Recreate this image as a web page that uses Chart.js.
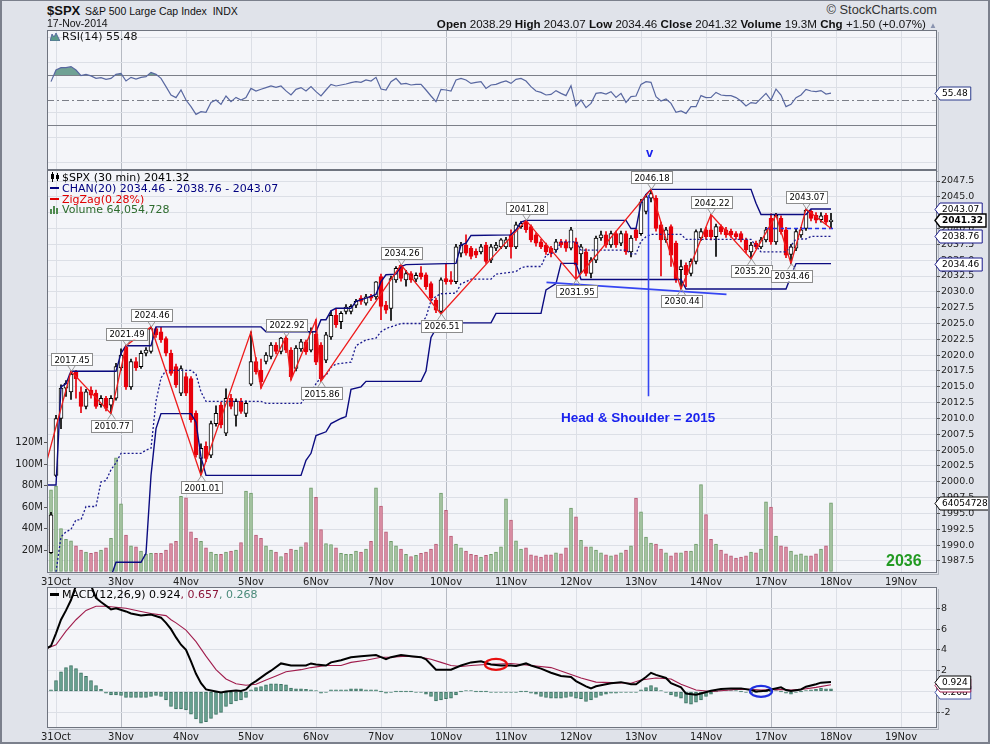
<!DOCTYPE html>
<html lang="en">
<head>
  <meta charset="UTF-8" />
  <title>$SPX S&amp;P 500 Large Cap Index - 30 min</title>
  <script src="https://cdn.jsdelivr.net/npm/chart.js"></script>
  <style>
    * { margin: 0; padding: 0; box-sizing: border-box; }
    body { background: #dfe2e9; width: 990px; height: 744px; overflow: hidden; }
    #wrap { position: relative; width: 990px; height: 744px; background: #e0e3ea; }
    #frame { position: absolute; left: 0; top: 0; width: 990px; height: 744px; border: 2px solid #7b808c; border-top-width: 1px; pointer-events: none; z-index: 5; }
    canvas { position: absolute; left: 0; }
    .t { position: absolute; white-space: nowrap; line-height: 1; font-family: 'Liberation Sans', sans-serif; color: #111; z-index: 3; }
    .lg { position: absolute; white-space: nowrap; line-height: 1; font-family: 'DejaVu Sans', sans-serif; font-size: 11px; z-index: 3; }
    .dash { display: inline-block; width: 9px; height: 2px; vertical-align: middle; margin-right: 3px; position: relative; top: -1px; }
    .ann { position: absolute; white-space: nowrap; line-height: 1; font-family: 'Liberation Sans', sans-serif; font-weight: bold; z-index: 3; }
  </style>
</head>
<body>
<div id="wrap">
  <canvas id="rsiChart" width="990" height="160" style="top:20px"></canvas>
  <canvas id="priceChart" width="990" height="428" style="top:160px"></canvas>
  <canvas id="macdChart" width="990" height="166" style="top:577px"></canvas>

  <!-- header -->
  <div class="t" style="left:47px;top:4px;font-size:13px;font-weight:bold">$SPX</div>
  <div class="t" style="left:85px;top:5.6px;font-size:10.5px">S&amp;P 500 Large Cap Index&nbsp; INDX</div>
  <div class="t" style="right:53px;top:3.7px;font-size:12.8px;color:#333">&copy; StockCharts.com</div>
  <div class="t" style="left:47px;top:18.4px;font-size:10.5px">17-Nov-2014</div>
  <div class="t" style="right:53px;top:17.5px;font-size:11.6px"><b>Open</b> 2038.29 <b>High</b> 2043.07 <b>Low</b> 2034.46 <b>Close</b> 2041.32 <b>Volume</b> 19.3M <b>Chg</b> +1.50 (+0.07%) <span style="color:#8a94b0;font-size:8px">&#9650;</span></div>

  <!-- RSI legend -->
  <div class="lg" style="left:50px;top:31px;color:#111">
    <svg width="10" height="9" style="vertical-align:-1px;margin-right:2px"><path d="M0 9 L2 2 L4 5 L6 1 L10 9 Z" fill="#5c9a8a" stroke="#4a5a9a" stroke-width="0.8"/></svg>RSI(14) 55.48
  </div>

  <!-- price legend -->
  <div class="lg" style="left:50px;top:172px;color:#000">
    <svg width="10" height="10" style="vertical-align:-1px;margin-right:2px"><path d="M2.5 0v10M7.5 1v8" stroke="#000"/><rect x="1" y="2" width="3" height="5" fill="#000"/><rect x="6" y="3" width="3" height="4" fill="#000"/></svg>$SPX (30 min) 2041.32
  </div>
  <div class="lg" style="left:50px;top:183px;color:#000080"><span class="dash" style="background:#000080"></span>CHAN(20) 2034.46 - 2038.76 - 2043.07</div>
  <div class="lg" style="left:50px;top:194px;color:#e00000"><span class="dash" style="background:#e00000"></span>ZigZag(0.28%)</div>
  <div class="lg" style="left:50px;top:204px;color:#2d6b2d">
    <svg width="10" height="9" style="vertical-align:-1px;margin-right:2px"><rect x="0" y="4" width="2" height="5" fill="#4f8a4f"/><rect x="3" y="1" width="2" height="8" fill="#4f8a4f"/><rect x="6" y="3" width="2" height="6" fill="#4f8a4f"/></svg>Volume 64,054,728
  </div>

  <!-- MACD legend -->
  <div class="lg" style="left:50px;top:589px;color:#000"><span class="dash" style="background:#000;height:3px"></span>MACD(12,26,9) 0.924<span style="color:#8a1538">, 0.657</span><span style="color:#4a8a7a">, 0.268</span></div>

  <!-- annotations -->
  <div class="ann" style="left:646px;top:146px;font-size:13px;color:#1a22ee">v</div>
  <div class="ann" style="left:561px;top:411px;font-size:13.5px;color:#1a22ee">Head &amp; Shoulder = 2015</div>
  <div class="ann" style="left:886px;top:553px;font-size:16px;color:#229a22">2036</div>

  <div id="frame"></div>
</div>

<script>
// ---- axis layout ----
const dayLabels   = ['31Oct','3Nov','4Nov','5Nov','6Nov','7Nov','10Nov','11Nov','12Nov','13Nov','14Nov','17Nov','18Nov','19Nov'];
const dayStartBar = [1, 14, 27, 40, 53, 66, 79, 92, 105, 118, 131, 144, 157, 170];
const weekStarts  = ['3Nov', '10Nov', '17Nov'];
const priceTicks  = [1987.5,1990,1992.5,1995,1997.5,2000,2002.5,2005,2007.5,2010,2012.5,2015,2017.5,2020,2022.5,2025,2027.5,2030,2032.5,2035,2037.5,2040,2042.5,2045,2047.5];
const volTicks    = [20, 40, 60, 80, 100, 120];
const rsiTicks    = [0, 10, 20, 30, 40, 50, 60, 70, 80, 90, 100];
const macdTicks   = [-2, 0, 2, 4, 6, 8];

// ---- 30 min bars (index 0 = last bar of 30 Oct) ----
const openP = [
  1988.8,2001.0,2010.0,2014.8,2014.2,2017.4,2014.2,2011.9,2014.5,2014.0,2012.2,2013.2,2012.1,2013.2,
  2018.0,2021.3,2015.0,2019.0,2018.2,2020.3,2020.6,2024.2,2023.7,2022.6,2020.3,2018.2,2014.0,
  2016.6,2016.3,2010.8,2003.7,2005.6,2004.2,2009.2,2012.1,2007.7,2013.2,2010.5,2012.7,2010.8,
  2015.4,2019.0,2017.6,2019.0,2019.8,2021.6,2020.6,2022.7,2020.8,2017.9,2021.0,2022.1,2020.8,
  2023.3,2021.6,2019.2,2022.9,2026.3,2025.3,2026.9,2026.9,2027.9,2029.0,2028.2,2029.3,2029.2,
  2032.4,2027.9,2027.4,2031.9,2034.2,2031.9,2032.9,2032.0,2033.0,2032.7,2031.3,2028.7,2026.9,
  2032.1,2031.9,2031.6,2036.1,2037.4,2036.9,2036.4,2036.3,2037.4,2035.0,2036.9,2037.1,2037.1,
  2039.0,2037.1,2040.3,2041.1,2040.3,2039.0,2037.9,2037.4,2036.9,2036.6,2037.9,2037.9,2036.9,
  2037.9,2036.0,2036.3,2032.9,2035.0,2038.5,2039.0,2037.4,2039.2,2037.7,2039.2,2036.3,2039.8,
  2039.2,2042.7,2044.8,2044.8,2040.6,2038.2,2040.3,2037.7,2033.5,2034.2,2032.9,2034.8,2038.5,
  2039.8,2039.8,2038.7,2040.3,2039.8,2039.6,2039.2,2039.2,2038.2,2036.3,2037.7,2037.1,2038.2,
  2041.6,2037.9,2041.6,2039.8,2035.9,2036.9,2039.0,2040.0,2042.7,2042.1,2041.4,2042.1,2041.1
];
const highP = [
  1995.2,2010.5,2015.3,2016.0,2017.45,2017.6,2015.0,2014.6,2015.0,2014.5,2013.6,2013.5,2013.6,2018.7,
  2021.0,2021.49,2019.4,2019.6,2020.7,2021.2,2024.46,2024.4,2024.4,2022.9,2020.8,2018.6,2018.3,
  2017.2,2016.6,2011.2,2006.0,2006.3,2009.6,2012.0,2012.6,2014.7,2013.8,2013.1,2013.2,2012.8,
  2023.7,2019.6,2019.4,2020.4,2022.0,2022.0,2022.8,2022.92,2021.2,2021.5,2022.5,2022.4,2024.3,
  2025.6,2022.0,2023.6,2027.0,2027.4,2026.9,2028.0,2028.0,2028.8,2029.4,2029.6,2029.6,2031.61,
  2032.8,2028.5,2032.5,2034.0,2034.26,2033.4,2033.2,2033.0,2034.0,2033.0,2031.6,2029.0,2032.2,
  2034.5,2033.2,2037.5,2037.8,2039.0,2037.2,2036.8,2037.5,2037.8,2037.5,2037.8,2038.4,2038.6,
  2039.8,2041.0,2041.1,2041.28,2040.6,2039.3,2038.3,2037.7,2037.2,2038.3,2038.3,2038.2,2040.2,
  2038.5,2037.5,2036.8,2035.4,2038.8,2039.6,2039.5,2039.6,2039.6,2039.6,2039.6,2038.9,2040.0,
  2044.6,2045.4,2046.18,2045.2,2041.0,2040.2,2040.6,2038.0,2035.0,2034.6,2035.2,2039.8,2040.0,
  2040.2,2042.22,2040.7,2040.6,2040.2,2039.9,2039.5,2039.5,2038.5,2037.8,2038.0,2038.6,2040.2,
  2042.3,2042.4,2042.0,2040.2,2037.5,2039.9,2040.2,2043.07,2043.0,2042.5,2042.5,2042.4,2042.4
];
const lowP = [
  1988.7,2000.8,2008.4,2013.5,2013.0,2013.2,2010.9,2011.5,2013.2,2011.6,2011.8,2011.2,2010.77,2012.9,
  2017.6,2014.6,2014.6,2017.6,2017.9,2019.9,2020.3,2022.8,2022.0,2019.9,2016.8,2014.9,2013.6,
  2013.6,2009.4,2003.9,2001.01,2003.2,2003.8,2008.8,2008.5,2007.3,2011.5,2008.8,2010.8,2010.3,
  2015.2,2017.0,2014.8,2018.6,2019.4,2020.2,2020.2,2020.4,2016.1,2017.5,2020.6,2020.1,2020.5,
  2018.5,2015.86,2018.8,2022.5,2024.4,2024.2,2026.5,2026.5,2027.5,2028.0,2027.9,2028.6,2028.8,
  2025.6,2026.6,2025.5,2031.5,2031.7,2030.9,2031.5,2031.6,2032.0,2030.4,2028.6,2026.7,2026.51,
  2031.2,2031.2,2031.3,2035.5,2035.8,2035.2,2035.4,2036.0,2034.5,2034.6,2036.5,2036.8,2036.8,
  2035.3,2036.8,2040.0,2039.4,2037.9,2037.2,2036.8,2035.9,2035.5,2036.3,2037.0,2036.4,2036.6,
  2031.95,2033.0,2032.5,2032.2,2034.6,2038.1,2037.0,2037.0,2037.0,2037.3,2035.9,2035.5,2038.1,
  2038.9,2042.3,2044.2,2039.6,2032.5,2037.8,2034.0,2031.5,2030.44,2030.8,2032.5,2034.4,2038.1,
  2038.3,2038.2,2035.6,2039.1,2038.6,2038.6,2038.3,2037.9,2036.2,2035.20,2036.8,2036.8,2037.9,
  2037.5,2037.5,2039.1,2035.4,2034.46,2036.5,2038.6,2039.7,2041.2,2040.9,2041.0,2040.6,2040.0
];
const closeP = [
  1994.8,2010.0,2014.8,2015.6,2017.0,2016.3,2011.9,2014.2,2013.7,2011.9,2013.2,2011.6,2013.2,2018.2,
  2020.0,2015.0,2019.0,2018.0,2020.3,2020.8,2024.2,2023.2,2022.4,2020.3,2017.1,2015.3,2017.9,
  2014.0,2009.8,2004.3,2005.3,2003.7,2009.2,2010.8,2009.0,2013.2,2011.9,2012.7,2011.1,2012.4,
  2019.0,2017.4,2015.8,2020.0,2021.6,2020.6,2022.7,2020.8,2016.6,2021.1,2022.1,2020.5,2023.7,
  2018.9,2016.3,2023.2,2026.3,2024.8,2026.6,2027.6,2027.7,2028.5,2028.5,2029.2,2029.0,2031.6,
  2027.7,2027.1,2032.1,2033.7,2032.1,2032.9,2031.9,2032.6,2032.4,2030.8,2029.0,2027.1,2031.9,
  2031.6,2031.6,2037.1,2037.4,2036.1,2035.6,2035.8,2037.1,2034.8,2037.1,2037.4,2038.2,2038.2,
  2037.1,2040.6,2040.8,2039.8,2038.2,2037.7,2037.1,2036.3,2036.1,2037.9,2037.4,2036.9,2039.8,
  2034.2,2037.1,2032.9,2035.0,2038.5,2039.0,2037.4,2039.2,2037.4,2039.2,2036.3,2038.5,2038.5,
  2044.2,2045.0,2045.5,2040.0,2038.2,2039.8,2035.8,2031.9,2034.0,2032.7,2034.8,2039.5,2039.5,
  2038.7,2038.7,2040.3,2039.5,2039.0,2039.0,2038.7,2038.2,2036.6,2037.4,2037.1,2038.2,2039.8,
  2037.9,2042.1,2039.5,2035.8,2037.1,2039.5,2039.8,2042.9,2041.6,2041.3,2042.0,2041.0,2041.32
];
// volume in millions
const volM = [
  76,79.7,40,30,28.5,24,20,18,17,18,20,22,31,106,
  63,34,24,23,19,16,17,17,17,20,26,28,70,
  68.7,37,31,28,22,18,16,16,18,19,20,27,75,
  73,34,31,24,20,18,14,17,21,20,23,27,78,
  69,39,26,25,22,17,16,16,19,18,21,28,78,
  61,37,28,24,21,16,14,15,17,18,21,25.5,73,
  57,33,25.5,22,19,16,15,13.5,15,16,18,23,67.6,
  48,28.5,21,22,15.5,14.5,13.5,15.5,15.5,17.5,16.5,22,59,
  51,29,23,23,20,17.5,15.5,14.5,15.5,17.5,20,24,68.5,
  55.5,32,26.5,25.5,21,17.5,14.5,17.5,17.5,19,19,25.5,81,
  53,30,25.5,20,16.5,14.5,12.5,13.5,14.5,18,17.5,21,65,
  60,33,24,23,19,15.5,16.5,14.5,14.5,16.5,21,24,64.05
];
const lastVolume = '64054728';

// ---- price channel (20) vertices ----
const chanUpK = [-1,1,2,3,4,13,14,15,20,21,42,43,53,54,55,56,57,60,61,63,65,66,67,69,70,71,81,82,83,84,92,93,94,95,115,116,117,118,119,120,140,141,142,151,152,156];
const chanUpV = [1999.5,1999.5,2015.0,2015.5,2017.45,2017.45,2020.3,2021.49,2021.49,2024.46,2024.46,2023.7,2023.7,2025.6,2025.6,2027.0,2027.4,2027.4,2028.5,2029.0,2029.6,2031.6,2032.7,2032.8,2034.0,2034.3,2034.5,2037.4,2037.7,2038.9,2039.0,2039.8,2041.0,2041.28,2041.28,2040.0,2040.0,2044.0,2045.4,2046.18,2046.18,2044.0,2042.22,2042.22,2043.07,2043.07];
const chanLoK = [12,13,18,19,20,21,22,28,29,30,31,50,51,52,53,55,56,58,59,60,62,63,74,75,76,77,78,88,89,98,99,101,102,105,106,126,127,147,148,149,156];
const chanLoV = [1985.0,1987.3,1987.3,1988.7,2001.0,2008.4,2010.77,2010.77,2009.4,2003.9,2001.01,2001.01,2003.4,2004.5,2007.3,2007.9,2009.2,2010.0,2010.3,2014.6,2015.0,2015.86,2015.86,2017.5,2022.8,2024.2,2025.1,2025.1,2026.6,2026.6,2030.3,2031.3,2034.5,2034.5,2031.95,2031.95,2030.44,2030.44,2032.5,2034.46,2034.46];
const chanMidK = [1,2,3,4,5,6,7,9,10,11,12,13,14,18,19,20,21,22,23,28,29,30,31,42,43,50,51,52,53,54,55,56,57,60,61,63,65,66,67,70,74,75,76,77,78,81,82,83,84,88,89,93,94,95,98,99,101,102,105,106,115,116,117,118,119,120,126,127,140,141,142,147,148,149,151,152,156];
const chanMidV = [1985.8,1991.3,1992.1,1992.5,1994.0,1994.0,1996.1,1996.1,2000.0,2000.2,2001.9,2003.0,2004.5,2004.5,2005.0,2005.3,2012.7,2016.4,2017.6,2017.6,2017.0,2014.2,2012.7,2012.7,2012.4,2012.4,2013.5,2014.1,2015.5,2016.5,2016.8,2018.1,2018.6,2018.9,2021.5,2022.4,2022.7,2023.7,2024.2,2025.0,2025.0,2026.0,2028.6,2029.3,2029.7,2029.8,2031.3,2031.6,2032.0,2032.0,2032.8,2033.2,2033.8,2034.0,2034.0,2035.8,2036.3,2037.9,2037.9,2036.6,2036.6,2036.0,2036.0,2038.0,2038.7,2039.07,2039.07,2038.3,2038.3,2037.2,2036.3,2036.3,2037.3,2038.34,2038.34,2038.76,2038.76];

// ---- zigzag (0.28%) vertices ----
const zzK = [-1,4,12,15,20,30,40,42,47,48,53,54,70,78,95,105,120,126,132,140,145,148,151,156];
const zzV = [2002.8,2017.45,2010.77,2021.49,2024.46,2001.01,2023.7,2014.8,2022.92,2016.1,2025.6,2015.86,2034.26,2026.51,2041.28,2031.95,2046.18,2030.44,2042.22,2035.20,2042.1,2034.46,2043.07,2040.0];
const zzLabeled = [0,1,1,1,1,1,0,0,1,0,0,1,1,1,1,1,1,1,1,1,0,1,1,0];

// ---- hand drawn annotations ----
const neckK = [99.1, 135.1],  neckV = [2031.5, 2029.6];
const headK = [119.5, 119.5], headV = [2045.3, 2013.5];
const tgtK  = [143, 156.5],   tgtV  = [2040.0, 2040.0];

// ---- RSI(14) ----
const rsiV = [
  64.7,74,75.9,75.9,76.7,74,69.5,70.5,69.3,67.3,67.9,66.5,67.3,70.5,
  71.3,65.2,68.1,66.8,68.1,68.7,72.1,70.5,67.3,60.7,54,51.9,58,
  50,44.7,38.5,40.7,40.1,48.1,50,46.5,53.2,48.7,52.1,50,51.9,
  59.3,57.2,58.6,59.9,61.2,60.1,61.2,57.3,54,58.5,59.9,57.2,60.7,
  56.7,53.2,58,62.5,61.2,62,62.8,63.9,64.7,64.1,66,65.2,68.1,
  58.8,58,64.7,67.3,62.8,63.3,62,62.5,62.5,58,53.2,48.7,58.5,
  58,57.2,66,67.3,66,63.3,64.1,64.7,59.3,62,62.5,64.1,65.2,
  63.3,66.5,67.3,65.2,60.7,57.2,56.1,54,54.5,57.5,55.3,53.5,61.5,
  45.2,50,43.9,47.3,55.3,55.9,54.8,56.7,52.1,55.3,48.1,52.7,53.2,
  62.5,64.7,64.1,52.7,49.2,50.8,47.3,40.1,41.2,39.3,44.7,44.7,53.5,
  51.9,52.1,56.1,54,53.5,53.5,51.9,49.2,45.2,47.9,47.3,51.3,55.3,
  50,58.8,54,44.7,46.5,51.9,54,58.5,57.2,56.7,57.5,54.8,55.48
];

// ---- MACD(12,26,9) ----
const macdK = [-1,0,1,2,3,4,5,6,7,8,9,10,12,13,15,16,18,20,22,23,24,25,26,27,28,29,30,31,32,34,35,37,38,39,40,41,43,44,46,48,49,51,52,53,55,56,58,60,62,65,66,67,68,70,72,74,75,77,78,80,82,84,86,88,90,92,93,95,96,98,100,102,104,105,107,108,109,111,112,114,116,117,119,120,121,123,124,126,127,129,130,132,134,136,138,140,141,143,144,146,147,148,150,151,153,154,156];
const macdV = [4.1,4.4,5.6,6.9,7.8,8.8,10.2,10.9,11.1,10.2,9.0,8.6,7.9,8.0,7.7,7.5,7.3,7.4,7.1,6.6,6.0,5.2,4.5,4.0,2.9,1.7,0.8,0.2,0.1,-0.1,0,0.1,0.05,0.2,0.7,1.0,1.7,2.0,2.7,2.5,2.5,2.5,2.7,2.6,2.5,2.8,3.0,3.3,3.4,3.5,3.3,3.1,3.3,3.5,3.4,3.3,3.1,2.1,2.1,2.1,2.5,2.8,2.9,2.6,2.5,2.5,2.45,2.7,2.5,2.2,1.8,1.5,1.4,1.0,0.5,0.3,0.5,0.7,0.8,0.9,0.7,0.7,1.4,1.8,1.6,1.3,0.8,0.4,-0.2,-0.3,-0.2,0.07,0.24,0.3,0.3,0.14,0,0.07,0.2,0.4,0.14,0.04,0.2,0.46,0.7,0.85,0.924];
const sigK = [-1,1,3,5,7,9,11,13,15,18,20,23,24,25,27,29,31,33,35,37,39,41,43,45,47,50,52,55,58,60,63,66,68,71,74,76,78,80,82,84,87,92,96,100,103,106,109,112,116,118,121,124,126,129,132,134,137,140,142,145,148,150,153,156];
const sigV = [4.1,4.5,5.8,6.9,7.8,8.2,8.2,8.1,8.0,7.7,7.5,7.3,6.9,6.6,5.9,4.8,3.4,2.1,1.2,0.75,0.6,0.7,1.1,1.5,1.9,2.1,2.3,2.5,2.5,2.8,3.0,3.3,3.3,3.4,3.3,3.1,2.8,2.5,2.4,2.5,2.6,2.7,2.5,2.3,1.8,1.3,0.9,0.85,0.8,1.1,1.3,1.2,0.7,0.15,0.0,0.07,0.2,0.2,0.14,0.2,0.14,0.2,0.4,0.657];
const histV = [
  0.16,1.06,1.9,2.3,2.5,2.2,1.8,1.45,1.06,0.58,0.22,-0.16,-0.32,-0.32,
  -0.38,-0.58,-0.58,-0.58,-0.58,-0.58,-0.48,-0.38,-0.48,-0.8,-1.44,-1.67,-1.67,
  -1.76,-2.18,-2.63,-3.04,-2.9,-2.6,-2.2,-2.0,-1.44,-1.2,-0.9,-0.8,-0.58,
  0.16,0.38,0.48,0.64,0.74,0.74,0.7,0.64,0.32,0.26,0.26,0.22,0.16,
  0.1,-0.16,-0.1,0.16,0.16,0.16,0.16,0.26,0.26,0.26,0.16,0.16,0.16,
  0,-0.16,-0.06,0,0,0,0,-0.06,-0.1,-0.26,-0.48,-0.9,-0.8,
  -0.7,-0.64,-0.32,0,0.1,0.06,0,0,0,-0.1,-0.1,-0.1,-0.06,
  -0.1,-0.1,0,0,-0.16,-0.26,-0.48,-0.58,-0.64,-0.64,-0.64,-0.58,-0.48,
  -0.64,-0.7,-0.96,-0.8,-0.58,-0.38,-0.26,-0.16,-0.16,-0.1,-0.1,-0.1,-0.06,
  0.16,0.38,0.58,0.38,0.06,-0.1,-0.32,-0.48,-0.64,-1.12,-1.22,-1.03,-0.8,
  -0.48,-0.26,0,0.1,0.1,0.1,0.1,0,-0.06,-0.16,-0.06,0,0,
  0,0.1,0,-0.16,-0.26,-0.1,0,0.1,0.16,0.22,0.32,0.26,0.268
];
// circled crossings
const ringK = [89, 142], ringV = [2.6, 0.02], ringColor = ['#e81010', '#1f2fe0'];

// ---------------------------------------------------------------
const X_MIN = -0.8, X_MAX = 177.2;
const FONT = "'DejaVu Sans', sans-serif";
Chart.defaults.font.family = FONT;
Chart.defaults.font.size = 10;
Chart.defaults.color = '#222';

const isUp = closeP.map((c, i) => c >= openP[i]);
const pts = (ks, vs) => ks.map((k, i) => ({ x: k, y: vs[i] }));

function xAxis(showLabels) {
  return {
    type: 'linear', min: X_MIN, max: X_MAX, offset: false,
    afterBuildTicks: s => { s.ticks = dayStartBar.map(v => ({ value: v })); },
    afterFit: s => { s.height = showLabels ? 15 : 0; },
    grid: {
      offset: false, drawTicks: false,
      color: c => weekStarts.includes(dayLabels[dayStartBar.indexOf(c.tick.value)]) ? '#b6bac3' : '#dcdfe6'
    },
    border: { display: false },
    ticks: {
      display: showLabels, padding: 3, maxRotation: 0, autoSkip: false, color: '#222', font: { size: 10 },
      callback: v => dayLabels[dayStartBar.indexOf(v)]
    }
  };
}

function rightAxis(min, max, ticks, fmt, extra) {
  return Object.assign({
    position: 'right', min, max,
    afterBuildTicks: s => { s.ticks = ticks.map(v => ({ value: v })); },
    afterFit: s => { s.width = 53; },
    grid: { color: '#dcdfe6', drawTicks: true, tickLength: 3, tickColor: '#555' },
    border: { display: false },
    ticks: { padding: 1, color: '#222', font: { size: 9.5 }, callback: fmt }
  }, extra || {});
}

// panel background + frame
const panel = {
  id: 'panel',
  beforeDraw(chart) {
    const { ctx, chartArea: a } = chart;
    ctx.save();
    ctx.fillStyle = '#f4f5f9';
    ctx.fillRect(a.left, a.top, a.right - a.left, a.bottom - a.top);
    ctx.restore();
  },
  afterDraw(chart) {
    const { ctx, chartArea: a } = chart;
    ctx.save();
    ctx.strokeStyle = '#6f747f';
    ctx.lineWidth = 1;
    ctx.strokeRect(a.left + 0.5, a.top + 0.5, a.right - a.left - 1, a.bottom - a.top - 1);
    ctx.strokeStyle = 'rgba(90,95,110,0.35)';
    ctx.beginPath();
    ctx.moveTo(a.right + 1.5, a.top + 2); ctx.lineTo(a.right + 1.5, a.bottom + 1.5); ctx.lineTo(a.left + 2, a.bottom + 1.5);
    ctx.stroke();
    ctx.restore();
  }
};

// value tag on the right axis
function tag(ctx, x, y, text, color, bold) {
  ctx.save();
  ctx.font = (bold ? 'bold ' : '') + '9px ' + FONT;
  const w = ctx.measureText(text).width + 5, h = 13;
  y = Math.round(y) + 0.5;
  ctx.beginPath();
  ctx.moveTo(x, y);
  ctx.lineTo(x + 5, y - h / 2);
  ctx.lineTo(x + 5 + w, y - h / 2);
  ctx.lineTo(x + 5 + w, y + h / 2);
  ctx.lineTo(x + 5, y + h / 2);
  ctx.closePath();
  ctx.fillStyle = '#fff';
  ctx.fill();
  ctx.lineWidth = bold ? 1.4 : 1;
  ctx.strokeStyle = color;
  ctx.stroke();
  ctx.fillStyle = '#000';
  ctx.textBaseline = 'middle';
  ctx.fillText(text, x + 7, y + 0.5);
  ctx.restore();
}

// ---------------- RSI ----------------
const rsiLevels = {
  id: 'rsiLevels',
  beforeDatasetsDraw(chart) {
    const { ctx, chartArea: a, scales: { y } } = chart;
    ctx.save();
    ctx.strokeStyle = '#7c7f88';
    ctx.lineWidth = 1.2;
    [70, 30].forEach(v => {
      const py = Math.round(y.getPixelForValue(v)) + 0.5;
      ctx.beginPath(); ctx.moveTo(a.left, py); ctx.lineTo(a.right, py); ctx.stroke();
    });
    ctx.lineWidth = 1;
    ctx.setLineDash([7, 3, 2, 3]);
    const p50 = Math.round(y.getPixelForValue(50)) + 0.5;
    ctx.beginPath(); ctx.moveTo(a.left, p50); ctx.lineTo(a.right, p50); ctx.stroke();
    ctx.restore();
  },
  afterDraw(chart) {
    const { ctx, chartArea: a, scales: { y } } = chart;
    const last = rsiV[rsiV.length - 1];
    tag(ctx, a.right - 2, y.getPixelForValue(last), last.toFixed(2), '#2a3a8a', false);
  }
};

new Chart(document.getElementById('rsiChart'), {
  type: 'line',
  data: {
    datasets: [{
      data: rsiV.map((v, k) => ({ x: k, y: v })),
      borderColor: '#5867a0', borderWidth: 1.2, pointRadius: 0, tension: 0,
      fill: { target: { value: 70 }, above: 'rgba(88,146,130,0.85)', below: 'rgba(0,0,0,0)' }
    }]
  },
  options: {
    responsive: false, animation: false, events: [],
    layout: { padding: { left: 47, right: 0, top: 10, bottom: 10 }, autoPadding: false },
    plugins: { legend: { display: false }, tooltip: { enabled: false } },
    scales: {
      x: xAxis(false),
      y: rightAxis(-6, 106, rsiTicks, v => (v % 20 === 10 ? String(v) : ''), {
        grid: { color: '#dcdfe6', drawTicks: true, tickLength: 3,
                tickColor: c => (c.tick.value % 20 === 10 ? '#555' : 'rgba(0,0,0,0)') }
      })
    }
  },
  plugins: [panel, rsiLevels]
});

// ---------------- Price ----------------
const priceDecor = {
  id: 'priceDecor',
  afterDatasetsDraw(chart) {
    const { ctx, scales: { x, y } } = chart;
    ctx.save();
    ctx.font = '8.5px ' + FONT;
    ctx.textAlign = 'center';
    ctx.textBaseline = 'middle';
    zzK.forEach((k, i) => {
      if (!zzLabeled[i]) return;
      const v = zzV[i];
      const high = i === 0 || v > zzV[i - 1];
      const px = Math.round(x.getPixelForValue(k)) + 0.5;
      const py = y.getPixelForValue(v);
      const txt = v.toFixed(2);
      const w = Math.ceil(ctx.measureText(txt).width) + 5, h = 12;
      const edge = high ? py - 6 : py + 6;
      const top = high ? edge - h : edge;
      // caret
      ctx.strokeStyle = '#9a9a9a';
      ctx.lineWidth = 1;
      ctx.beginPath();
      ctx.moveTo(px - 4, edge); ctx.lineTo(px, py); ctx.lineTo(px + 4, edge);
      ctx.stroke();
      // box
      ctx.fillStyle = '#fff';
      ctx.fillRect(px - w / 2, top, w, h);
      ctx.strokeStyle = '#8c8c8c';
      ctx.strokeRect(Math.round(px - w / 2) + 0.5, Math.round(top) + 0.5, w, h);
      ctx.fillStyle = '#000';
      ctx.fillText(txt, px + 0.5, top + h / 2 + 1);
    });
    ctx.restore();
  },
  afterDraw(chart) {
    const { ctx, chartArea: a, scales: { y, yv } } = chart;
    const x0 = a.right - 2;
    tag(ctx, x0, y.getPixelForValue(chanUpV[chanUpV.length - 1]), chanUpV[chanUpV.length - 1].toFixed(2), '#1a1a8c', false);
    tag(ctx, x0, y.getPixelForValue(chanMidV[chanMidV.length - 1]), chanMidV[chanMidV.length - 1].toFixed(2), '#1a1a8c', false);
    tag(ctx, x0, y.getPixelForValue(chanLoV[chanLoV.length - 1]), chanLoV[chanLoV.length - 1].toFixed(2), '#1a1a8c', false);
    tag(ctx, x0, y.getPixelForValue(closeP[closeP.length - 1]), closeP[closeP.length - 1].toFixed(2), '#000', true);
    tag(ctx, x0, yv.getPixelForValue(volM[volM.length - 1]), lastVolume, '#000', false);
  }
};

new Chart(document.getElementById('priceChart'), {
  type: 'bar',
  data: {
    datasets: [
      { type: 'bar', data: volM.map((v, k) => ({ x: k, y: v })), yAxisID: 'yv', xAxisID: 'x',
        barThickness: 3, grouped: false, order: 6, borderWidth: 1, borderSkipped: false,
        backgroundColor: c => isUp[c.dataIndex] ? '#a9c7a5' : '#dc90a6',
        borderColor: c => isUp[c.dataIndex] ? '#6e9b69' : '#b85d77' },
      { type: 'bar', data: lowP.map((l, k) => ({ x: k, y: [l, highP[k]] })), yAxisID: 'y',
        barThickness: 1, grouped: false, order: 5,
        backgroundColor: c => isUp[c.dataIndex] ? '#000' : '#e8000b' },
      { type: 'bar', data: openP.map((o, k) => ({ x: k, y: [o, closeP[k]] })), yAxisID: 'y',
        barThickness: 4, grouped: false, order: 4, minBarLength: 1, borderWidth: 1, borderSkipped: false,
        backgroundColor: c => isUp[c.dataIndex] ? '#fff' : '#e8000b',
        borderColor: c => isUp[c.dataIndex] ? '#000' : '#e8000b' },
      { type: 'line', data: pts(chanMidK, chanMidV), yAxisID: 'y', borderColor: '#1b1b8f', borderWidth: 1.3,
        borderDash: [2, 2], pointRadius: 0, order: 3 },
      { type: 'line', data: pts(chanUpK, chanUpV), yAxisID: 'y', borderColor: '#0b0b80', borderWidth: 1.4, pointRadius: 0, order: 2 },
      { type: 'line', data: pts(chanLoK, chanLoV), yAxisID: 'y', borderColor: '#0b0b80', borderWidth: 1.4, pointRadius: 0, order: 2 },
      { type: 'line', data: pts(neckK, neckV), yAxisID: 'y', borderColor: '#3545f2', borderWidth: 1.6, pointRadius: 0, order: 1 },
      { type: 'line', data: pts(headK, headV), yAxisID: 'y', borderColor: '#3545f2', borderWidth: 1.6, pointRadius: 0, order: 1 },
      { type: 'line', data: pts(tgtK, tgtV), yAxisID: 'y', borderColor: '#1f2fe8', borderWidth: 1.3, borderDash: [4, 3], pointRadius: 0, order: 1 },
      { type: 'line', data: pts(zzK, zzV), yAxisID: 'y', borderColor: '#ee1c1c', borderWidth: 1.3, pointRadius: 0, order: 0 }
    ]
  },
  options: {
    responsive: false, animation: false, events: [],
    layout: { padding: { left: 0, right: 0, top: 10, bottom: 0 }, autoPadding: false },
    plugins: { legend: { display: false }, tooltip: { enabled: false } },
    scales: {
      x: xAxis(true),
      y: rightAxis(1985.6, 2049.24, priceTicks, v => v.toFixed(1)),
      yv: {
        position: 'left', min: -1.4, max: 374.1,
        afterBuildTicks: s => { s.ticks = volTicks.map(v => ({ value: v })); },
        afterFit: s => { s.width = 47; },
        grid: { drawOnChartArea: false, drawTicks: true, tickLength: 3, tickColor: '#555' },
        border: { display: false },
        ticks: { padding: 1, color: '#222', font: { size: 10 }, callback: v => v + 'M' }
      }
    }
  },
  plugins: [panel, priceDecor]
});

// ---------------- MACD ----------------
const macdDecor = {
  id: 'macdDecor',
  afterDatasetsDraw(chart) {
    const { ctx, scales: { x, y } } = chart;
    ctx.save();
    ringK.forEach((k, i) => {
      ctx.beginPath();
      ctx.ellipse(x.getPixelForValue(k), y.getPixelForValue(ringV[i]), 11, 5.5, 0, 0, Math.PI * 2);
      ctx.strokeStyle = ringColor[i];
      ctx.lineWidth = 2.2;
      ctx.stroke();
    });
    ctx.restore();
  },
  afterDraw(chart) {
    const { ctx, chartArea: a, scales: { y } } = chart;
    const x0 = a.right - 2;
    const h = histV[histV.length - 1], s = sigV[sigV.length - 1], m = macdV[macdV.length - 1];
    tag(ctx, x0, y.getPixelForValue(h) + 3, h.toFixed(3), '#4455aa', false);
    tag(ctx, x0, y.getPixelForValue(s), s.toFixed(3), '#a01c4c', false);
    tag(ctx, x0, y.getPixelForValue(m), m.toFixed(3), '#000', false);
  }
};

new Chart(document.getElementById('macdChart'), {
  type: 'bar',
  data: {
    datasets: [
      { type: 'bar', data: histV.map((v, k) => ({ x: k, y: v })), barThickness: 3, grouped: false, minBarLength: 1,
        backgroundColor: '#6aa593', borderColor: '#3b7262', borderWidth: 1, borderSkipped: false, order: 3 },
      { type: 'line', data: pts(sigK, sigV), borderColor: '#a01c4c', borderWidth: 1.1, pointRadius: 0, order: 2 },
      { type: 'line', data: pts(macdK, macdV), borderColor: '#000', borderWidth: 2, pointRadius: 0, order: 1 }
    ]
  },
  options: {
    responsive: false, animation: false, events: [],
    layout: { padding: { left: 47, right: 0, top: 10, bottom: 0 }, autoPadding: false },
    plugins: { legend: { display: false }, tooltip: { enabled: false } },
    scales: {
      x: xAxis(true),
      y: rightAxis(-3.51, 10.05, macdTicks, v => String(v))
    }
  },
  plugins: [panel, macdDecor]
});
</script>
</body>
</html>
